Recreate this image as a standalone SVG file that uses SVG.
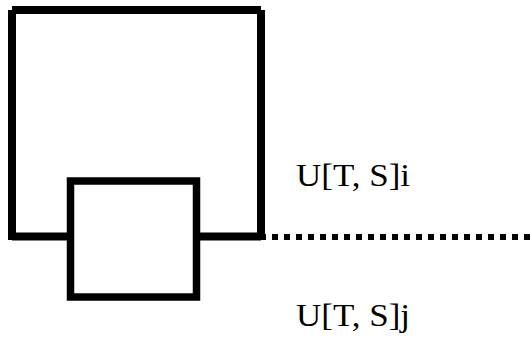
<svg xmlns="http://www.w3.org/2000/svg" width="530" height="339" viewBox="0 0 530 339">
  <style>
    .edge { stroke: #000; stroke-width: 8; fill: none; stroke-linecap: butt; }
    .box { stroke: #000; stroke-width: 7.5; fill: #fff; }
    .wire { stroke: #000; stroke-width: 6; fill: none; stroke-dasharray: 6 6; }
    .label { font-family: "Liberation Serif", "Times New Roman", serif; font-size: 32px; fill: #000; }
  </style>
  <rect width="530" height="339" fill="#fff"/>

  <!-- outer loop frame -->
  <g id="frame">
    <line class="edge" x1="12" y1="10" x2="261" y2="10"/>
    <line class="edge" x1="12" y1="10" x2="12" y2="240"/>
    <line class="edge" x1="261" y1="10" x2="261" y2="240"/>
    <line class="edge" x1="12" y1="236.5" x2="68" y2="236.5"/>
    <line class="edge" x1="199" y1="236.5" x2="261" y2="236.5"/>
  </g>

  <!-- inner block -->
  <g id="block">
    <rect class="box" x="70.5" y="181" width="126" height="116"/>
  </g>

  <!-- outgoing dotted wire -->
  <g id="connectors">
    <line class="wire" x1="260" y1="237" x2="530" y2="237"/>
  </g>

  <g id="label-i">
    <text class="label" x="296" y="186" textLength="114" lengthAdjust="spacingAndGlyphs">U[T, S]i</text>
  </g>
  <g id="label-j">
    <text class="label" x="296" y="326" textLength="114" lengthAdjust="spacingAndGlyphs">U[T, S]j</text>
  </g>
</svg>
